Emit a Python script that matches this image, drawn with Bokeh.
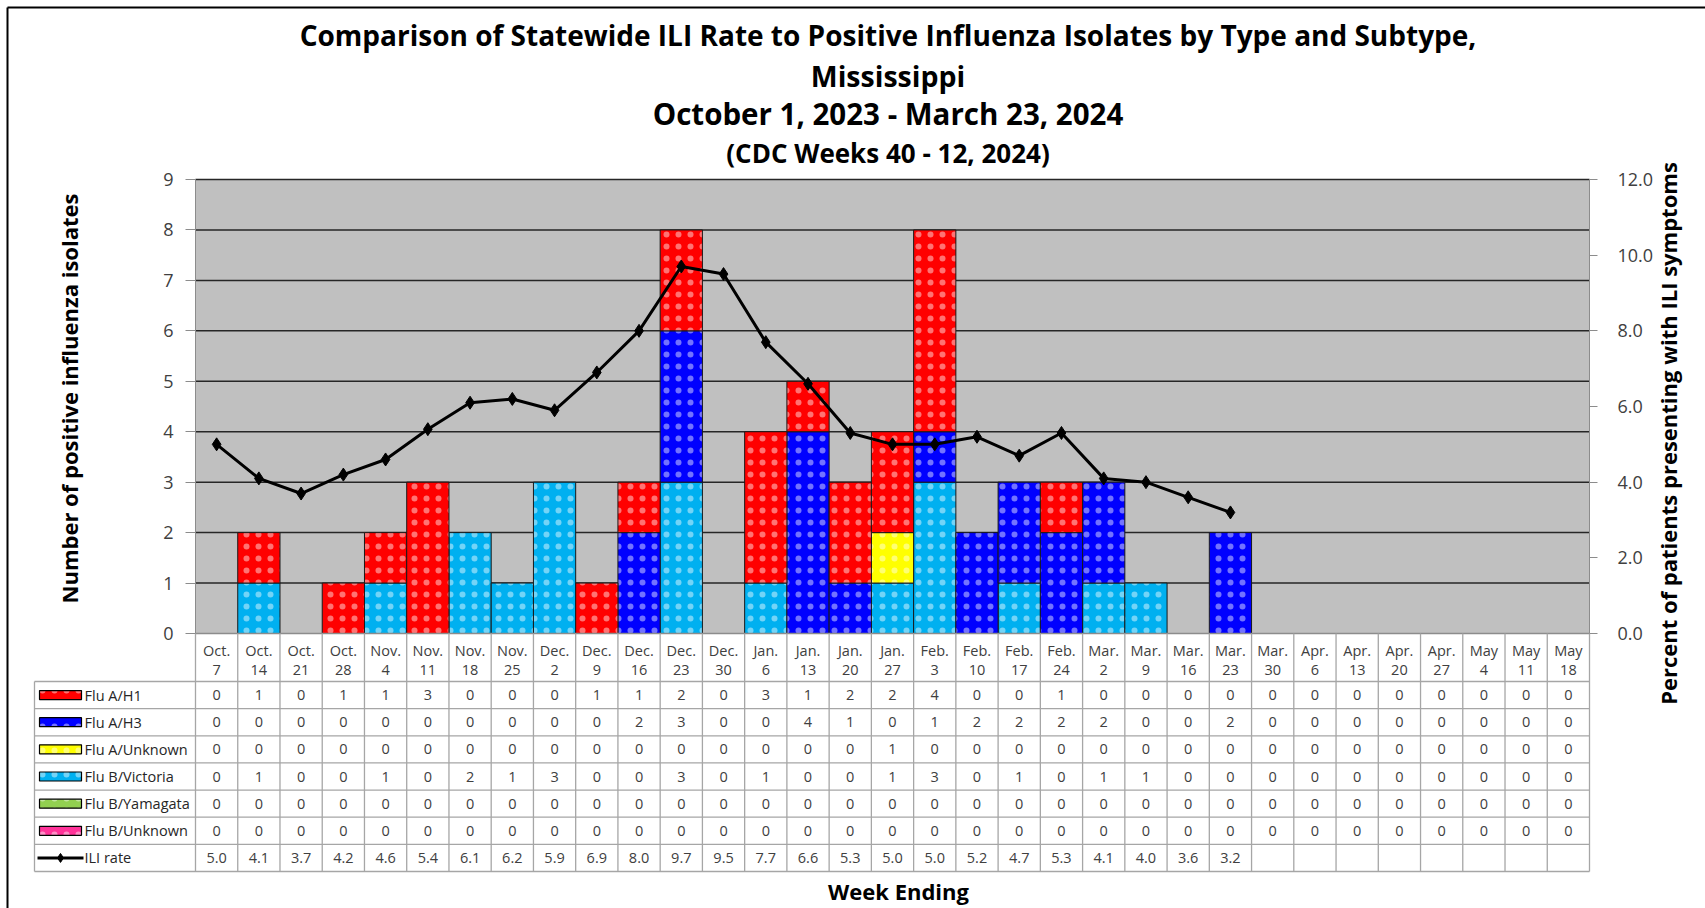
import math
from bokeh.plotting import figure
from bokeh.models import Range1d, LinearAxis, FixedTicker, PrintfTickFormatter
from bokeh.embed import file_html
from bokeh.resources import INLINE
from bokeh.core.properties import value

# ---------------- data ----------------
week_month = ["Oct."] * 4 + ["Nov."] * 4 + ["Dec."] * 5 + ["Jan."] * 4 + ["Feb."] * 4 + ["Mar."] * 5 + ["Apr."] * 4 + ["May"] * 3
week_day = ["7", "14", "21", "28", "4", "11", "18", "25", "2", "9", "16", "23", "30",
            "6", "13", "20", "27", "3", "10", "17", "24", "2", "9", "16", "23", "30",
            "6", "13", "20", "27", "4", "11", "18"]

flu_a_h1 = [0, 1, 0, 1, 1, 3, 0, 0, 0, 1, 1, 2, 0, 3, 1, 2, 2, 4, 0, 0, 1, 0, 0, 0, 0, 0, 0, 0, 0, 0, 0, 0, 0]
flu_a_h3 = [0, 0, 0, 0, 0, 0, 0, 0, 0, 0, 2, 3, 0, 0, 4, 1, 0, 1, 2, 2, 2, 2, 0, 0, 2, 0, 0, 0, 0, 0, 0, 0, 0]
flu_a_unknown = [0, 0, 0, 0, 0, 0, 0, 0, 0, 0, 0, 0, 0, 0, 0, 0, 1, 0, 0, 0, 0, 0, 0, 0, 0, 0, 0, 0, 0, 0, 0, 0, 0]
flu_b_victoria = [0, 1, 0, 0, 1, 0, 2, 1, 3, 0, 0, 3, 0, 1, 0, 0, 1, 3, 0, 1, 0, 1, 1, 0, 0, 0, 0, 0, 0, 0, 0, 0, 0]
flu_b_yamagata = [0] * 33
flu_b_unknown = [0] * 33
ili_rate = [5.0, 4.1, 3.7, 4.2, 4.6, 5.4, 6.1, 6.2, 5.9, 6.9, 8.0, 9.7, 9.5, 7.7, 6.6, 5.3, 5.0,
            5.0, 5.2, 4.7, 5.3, 4.1, 4.0, 3.6, 3.2]

series_names = ["Flu A/H1", "Flu A/H3", "Flu A/Unknown", "Flu B/Victoria", "Flu B/Yamagata", "Flu B/Unknown"]
series_values = [flu_a_h1, flu_a_h3, flu_a_unknown, flu_b_victoria, flu_b_yamagata, flu_b_unknown]
series_colors = ["#FF0000", "#0000FF", "#FFFF00", "#00B0F0", "#92D050", "#FF3399"]
stack_order = [5, 4, 3, 2, 1, 0]  # bottom to top

title_lines = ["Comparison of Statewide ILI Rate to Positive Influenza Isolates by Type and Subtype,",
               "Mississippi", "October 1, 2023 - March 23, 2024", "(CDC Weeks 40 - 12, 2024)"]
y_left_title = "Number of positive influenza isolates"
y_right_title = "Percent of patients presenting with ILI symptoms"
x_title = "Week Ending"
left_ticks = [0, 1, 2, 3, 4, 5, 6, 7, 8, 9]
right_ticks = [0, 2, 4, 6, 8, 10, 12]

# ---------------- layout (page pixels) ----------------
FONT = value("Open Sans")
N = len(week_day)
W, H = 1705, 908
PL, PR, PT, PB = 195, 1589, 179, 633      # plot area in page pixels
PX = (PR - PL) / N                        # pixels per column
PY = (PB - PT) / 9                        # pixels per isolate


def xp(px):
    return -0.5 + (px - PL) / PX


def yp(py):
    return (PB - py) / PY


HATCH = dict(hatch_pattern="dot", hatch_color="white", hatch_scale=12, hatch_weight=0.2, hatch_alpha=0.45)

p = figure(width=W, height=H, x_range=Range1d(xp(0), xp(W)), y_range=Range1d(yp(H), yp(0)),
           output_backend="svg", toolbar_location=None, x_axis_type=None, y_axis_type=None,
           min_border=0, outline_line_color=None, background_fill_color="white")
p.grid.visible = False
p.extra_y_ranges = {"ili": Range1d(yp(H) * 12 / 9, yp(0) * 12 / 9)}

# outer border (top and left)
p.segment(x0=[xp(7), xp(7)], x1=[xp(W), xp(7)], y0=[yp(7), yp(7)], y1=[yp(7), yp(H)],
          line_color="black", line_width=2)

# titles
p.text(x=[xp(887.5)] * 4, y=[yp(34), yp(75), yp(113), yp(152)], text=title_lines,
       text_align="center", text_baseline="middle", text_font=FONT, text_font_style="bold",
       text_color="#000000", text_font_size=["28px", "28.5px", "29.5px", "26px"])

# plot area
p.quad(left=[-0.5], right=[N - 0.5], bottom=[0], top=[9], fill_color="#C0C0C0", line_color=None)
gy = left_ticks[1:]
p.segment(x0=[-0.5] * len(gy), x1=[N - 0.5] * len(gy), y0=gy, y1=gy, line_color="#262626", line_width=1.5)

base = [0] * N
for si in stack_order:
    vals = series_values[si]
    xs, bots, tops = [], [], []
    for i, v in enumerate(vals):
        if v > 0:
            xs.append(i)
            bots.append(base[i])
            tops.append(base[i] + v)
        base[i] += v
    if xs:
        p.vbar(x=xs, bottom=bots, top=tops, width=1.0, fill_color=series_colors[si],
               line_color="#1a1a1a", line_width=1, **HATCH)

p.line(x=list(range(len(ili_rate))), y=ili_rate, y_range_name="ili", line_color="black", line_width=3)
p.scatter(x=list(range(len(ili_rate))), y=ili_rate, y_range_name="ili", marker="diamond", size=13,
          fill_color="black", line_color="black")


def style_axis(ax, tout, standoff, show_labels=True, show_line=True):
    ax.major_label_text_font = "Open Sans"
    ax.major_label_text_font_size = "18px"
    ax.major_label_text_color = "#404040" if show_labels else None
    ax.major_tick_out = tout
    ax.major_tick_in = 0
    ax.minor_tick_line_color = None
    ax.axis_line_color = "#8c8c8c" if show_line else None
    ax.major_tick_line_color = "#8c8c8c" if show_line else None
    ax.major_label_standoff = standoff


# left axis fixed at the plot-area edge
la = LinearAxis(fixed_location=-0.5, bounds=(0, 9), ticker=FixedTicker(ticks=left_ticks))
style_axis(la, 10, 12)
p.add_layout(la, "left")

# right axis: line/ticks at the plot edge, labels set a little further out
ra = LinearAxis(fixed_location=N - 0.5, bounds=(0, 12), y_range_name="ili",
                ticker=FixedTicker(ticks=right_ticks), formatter=PrintfTickFormatter(format="%.1f"))
style_axis(ra, 8, 6, show_labels=False)
p.add_layout(ra, "right")
ra2 = LinearAxis(fixed_location=xp(1603), bounds=(0, 12), y_range_name="ili",
                 ticker=FixedTicker(ticks=right_ticks), formatter=PrintfTickFormatter(format="%.1f"))
style_axis(ra2, 8, 6, show_labels=True, show_line=False)
p.add_layout(ra2, "right")

p.text(x=[xp(68)], y=[yp(398)], text=[y_left_title], angle=math.pi / 2, text_align="center",
       text_baseline="middle", text_font=FONT, text_font_style="bold", text_font_size="22px", text_color="#000000")
p.text(x=[xp(1667)], y=[yp(433)], text=[y_right_title], angle=math.pi / 2, text_align="center",
       text_baseline="middle", text_font=FONT, text_font_style="bold", text_font_size="22px", text_color="#000000")

# ---------------- data table ----------------
HEAD_B = 681
ROW_H = (871 - HEAD_B) / 7
LEG_L = 34
grid_col = "#a6a6a6"
hy = [yp(HEAD_B + i * ROW_H) for i in range(8)]
p.segment(x0=[xp(LEG_L)] * 8, x1=[N - 0.5] * 8, y0=hy, y1=hy, line_color=grid_col, line_width=1.3)
p.segment(x0=[-0.5], x1=[N - 0.5], y0=[0], y1=[0], line_color="#8c8c8c", line_width=1.3)
vx = [k - 0.5 for k in range(N + 1)]
p.segment(x0=vx, x1=vx, y0=[0] * len(vx), y1=[hy[-1]] * len(vx), line_color=grid_col, line_width=1.3)
p.segment(x0=[xp(LEG_L)], x1=[xp(LEG_L)], y0=[hy[0]], y1=[hy[-1]], line_color=grid_col, line_width=1.3)

TFS = "14.5px"
p.text(x=list(range(N)), y=[yp(650)] * N, text=week_month, text_align="center", text_baseline="middle",
       text_font=FONT, text_font_size=TFS, text_color="#404040")
p.text(x=list(range(N)), y=[yp(669)] * N, text=week_day, text_align="center", text_baseline="middle",
       text_font=FONT, text_font_size=TFS, text_color="#404040")

row_ys = [yp(HEAD_B + (r + 0.5) * ROW_H) for r in range(7)]
cx, cy, ct = [], [], []
for r, vals in enumerate(series_values):
    for i, v in enumerate(vals):
        cx.append(i); cy.append(row_ys[r]); ct.append(str(v))
for i, v in enumerate(ili_rate):
    cx.append(i); cy.append(row_ys[6]); ct.append(f"{v:.1f}")
p.text(x=cx, y=cy, text=ct, text_align="center", text_baseline="middle",
       text_font=FONT, text_font_size=TFS, text_color="#404040")

# legend column
p.rect(x=[xp(60)] * 6, y=row_ys[:6], width=42 / PX, height=9 / PY, fill_color=series_colors,
       line_color="black", line_width=1.2, **HATCH)
p.segment(x0=[xp(37)], x1=[xp(83)], y0=[row_ys[6]], y1=[row_ys[6]], line_color="black", line_width=3)
p.scatter(x=[xp(60)], y=[row_ys[6]], marker="diamond", size=9, fill_color="black", line_color="black")
p.text(x=[xp(84)] * 7, y=row_ys, text=series_names + ["ILI rate"], text_align="left",
       text_baseline="middle", text_font=FONT, text_font_size=TFS, text_color="#262626")

p.text(x=[xp(898)], y=[yp(890)], text=[x_title], text_align="center", text_baseline="middle",
       text_font=FONT, text_font_style="bold", text_font_size="22px", text_color="#000000")

open("out.html", "w").write(file_html(p, INLINE))
